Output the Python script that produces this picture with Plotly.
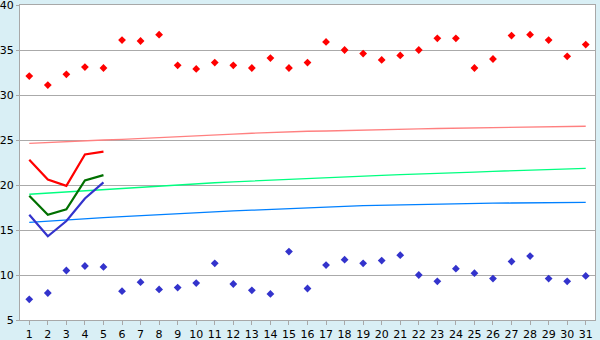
import plotly.graph_objects as go

days = list(range(1, 32))

max_temp = [32.1, 31.1, 32.3, 33.1, 33.0, 36.1, 36.0, 36.7, 33.3, 32.9,
            33.6, 33.3, 33.0, 34.1, 33.0, 33.6, 35.9, 35.0, 34.6, 33.9,
            34.4, 35.0, 36.3, 36.3, 33.0, 34.0, 36.6, 36.7, 36.1, 34.3, 35.6]

min_temp = [7.3, 8.0, 10.5, 11.0, 10.9, 8.2, 9.2, 8.4, 8.6, 9.1,
            11.3, 9.0, 8.3, 7.9, 12.6, 8.5, 11.1, 11.7, 11.3, 11.6,
            12.2, 10.0, 9.3, 10.7, 10.2, 9.6, 11.5, 12.1, 9.6, 9.3, 9.9]

line_days = [1, 2, 3, 4, 5]
red_line = [22.8, 20.6, 19.9, 23.4, 23.7]
green_line = [18.8, 16.7, 17.3, 20.5, 21.1]
blue_line = [16.7, 14.3, 16.0, 18.5, 20.3]

normal_high = [24.63, 24.74, 24.85, 24.95, 25.0, 25.08, 25.19, 25.3, 25.41, 25.52,
               25.6, 25.66, 25.75, 25.85, 25.93, 25.97, 26.0, 26.03, 26.08, 26.16,
               26.2, 26.23, 26.28, 26.31, 26.37, 26.41, 26.43, 26.45, 26.5, 26.52, 26.53]

normal_mid = [18.97, 19.1, 19.25, 19.4, 19.52, 19.65, 19.78, 19.9, 20.02, 20.12,
              20.25, 20.35, 20.45, 20.55, 20.65, 20.75, 20.85, 20.95, 20.98, 21.07,
              21.15, 21.2, 21.3, 21.38, 21.43, 21.52, 21.6, 21.65, 21.72, 21.77, 21.85]

normal_low = [15.85, 16.0, 16.12, 16.25, 16.37, 16.48, 16.6, 16.7, 16.8, 16.93,
              17.02, 17.12, 17.2, 17.3, 17.4, 17.5, 17.58, 17.63, 17.7, 17.75,
              17.8, 17.85, 17.9, 17.93, 17.96, 17.98, 18.0, 18.02, 18.05, 18.07, 18.08]

y_ticks = [5, 10, 15, 20, 25, 30, 35, 40]

fig = go.Figure()

fig.add_trace(go.Scatter(x=days, y=normal_high, mode="lines",
                         line=dict(color="#FF8080", width=1.3)))
fig.add_trace(go.Scatter(x=days, y=normal_mid, mode="lines",
                         line=dict(color="#00FF80", width=1.3)))
fig.add_trace(go.Scatter(x=days, y=normal_low, mode="lines",
                         line=dict(color="#0080FF", width=1.3)))

fig.add_trace(go.Scatter(x=line_days, y=red_line, mode="lines",
                         line=dict(color="#FF0000", width=2.2)))
fig.add_trace(go.Scatter(x=line_days, y=green_line, mode="lines",
                         line=dict(color="#007000", width=2.2)))
fig.add_trace(go.Scatter(x=line_days, y=blue_line, mode="lines",
                         line=dict(color="#3333CC", width=2.2)))

fig.add_trace(go.Scatter(x=days, y=max_temp, mode="markers",
                         marker=dict(symbol="diamond", size=6, color="#FF0000")))
fig.add_trace(go.Scatter(x=days, y=min_temp, mode="markers",
                         marker=dict(symbol="diamond", size=6, color="#3333CC")))

fig.update_layout(
    width=600, height=340,
    margin=dict(l=20, r=5, t=5, b=20, autoexpand=False),
    paper_bgcolor="#D9EFF5",
    plot_bgcolor="#FFFFFF",
    showlegend=False,
    font=dict(family="DejaVu Sans", size=11, color="#000000"),
)

fig.update_xaxes(
    range=[0.5, 31.5], tickmode="array", tickvals=days,
    ticktext=[str(d) for d in days],
    showgrid=False, zeroline=False, automargin=False,
    showline=True, linecolor="#A8A8A8", linewidth=1, mirror=True,
    ticks="outside", ticklen=4, tickcolor="#A8A8A8",
    ticklabeloverflow="allow",
)
fig.update_yaxes(
    range=[5, 40], tickmode="array", tickvals=y_ticks,
    ticktext=[str(v) for v in y_ticks],
    showgrid=True, gridcolor="#AAAAAA", gridwidth=1, zeroline=False,
    automargin=False,
    showline=True, linecolor="#A8A8A8", linewidth=1, mirror=True,
    ticks="outside", ticklen=3, tickcolor="#A8A8A8",
    ticklabeloverflow="allow",
)

fig.write_html("out.html")
